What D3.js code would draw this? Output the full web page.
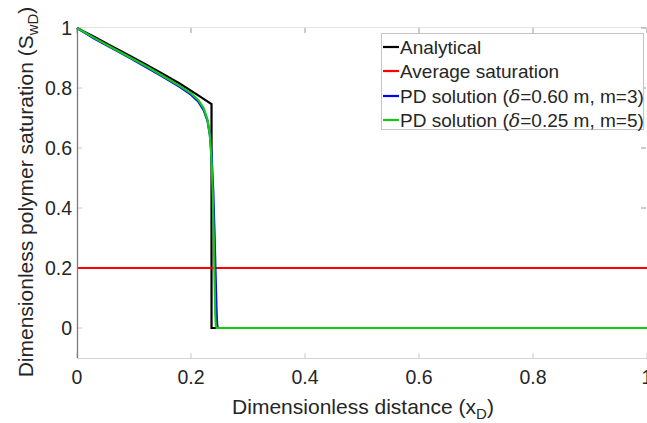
<!DOCTYPE html>
<html><head><meta charset="utf-8">
<script src="https://cdn.jsdelivr.net/npm/d3@7"></script>
<style>body{margin:0;background:#fff}svg{display:block;font-family:"Liberation Sans",Arial,sans-serif}</style>
</head><body>
<svg id="c" width="647" height="423"></svg>
<script>
// Data
const xTicks = [0, 0.2, 0.4, 0.6, 0.8, 1];
const yTicks = [0, 0.2, 0.4, 0.6, 0.8, 1];
const xTickLabels = ["0", "0.2", "0.4", "0.6", "0.8", "1"];
const yTickLabels = ["0", "0.2", "0.4", "0.6", "0.8", "1"];
const seriesNames = ["Analytical", "Average saturation", "PD solution (δ=0.60 m, m=3)", "PD solution (δ=0.25 m, m=5)"];
const analyticalX = [0, 0.01, 0.03, 0.06, 0.09, 0.12, 0.15, 0.18, 0.21, 0.236, 0.236, 1];
const analyticalY = [1, 0.99, 0.971, 0.94, 0.91, 0.879, 0.848, 0.815, 0.779, 0.746, 0, 0];
const averageX = [0, 1];
const averageY = [0.2, 0.2];
const pd1X = [0, 0.03, 0.06, 0.09, 0.12, 0.15, 0.18, 0.2, 0.213, 0.222, 0.229, 0.233, 0.236, 0.239, 0.2415, 0.2435, 0.245, 0.246, 0.247, 1];
const pd1Y = [1, 0.965, 0.934, 0.903, 0.871, 0.838, 0.804, 0.778, 0.754, 0.727, 0.69, 0.645, 0.58, 0.46, 0.3, 0.15, 0.05, 0.01, 0, 0];
const pd2X = [0, 0.03, 0.06, 0.09, 0.12, 0.15, 0.18, 0.2, 0.213, 0.222, 0.229, 0.233, 0.236, 0.238, 0.24, 0.2415, 0.2425, 0.2435, 0.245, 1];
const pd2Y = [1, 0.967, 0.936, 0.905, 0.874, 0.841, 0.807, 0.782, 0.759, 0.733, 0.694, 0.645, 0.56, 0.46, 0.3, 0.15, 0.05, 0.01, 0, 0];

const colors = ["#000000", "#ff0000", "#0000ff", "#14c814"];

const svg = d3.select("#c");
const x = d3.scaleLinear().domain([0, 1]).range([77, 647]);
const y = d3.scaleLinear().domain([-0.1, 1]).range([358, 28]);
const textCol = "#262626";

// axes box
svg.append("line").attr("x1", 77).attr("x2", 647).attr("y1", 27.5).attr("y2", 27.5).attr("stroke", "#e2e2e2").attr("stroke-width", 1.2);
svg.append("line").attr("x1", 77).attr("x2", 647).attr("y1", 358.5).attr("y2", 358.5).attr("stroke", "#d4d4d4").attr("stroke-width", 1.2);

// ticks
const tickG = svg.append("g").attr("stroke", "#9a9a9a").attr("stroke-width", 1);
xTicks.forEach(t => {
  tickG.append("line").attr("x1", x(t)).attr("x2", x(t)).attr("y1", 358).attr("y2", 353).attr("stroke", "#c8c8c8");
  tickG.append("line").attr("x1", x(t)).attr("x2", x(t)).attr("y1", 28).attr("y2", 33);
});
yTicks.forEach(t => {
  tickG.append("line").attr("x1", 77).attr("x2", 82).attr("y1", y(t)).attr("y2", y(t)).attr("stroke", "#c8c8c8");
  tickG.append("line").attr("x1", 646).attr("x2", 641).attr("y1", y(t)).attr("y2", y(t));
});

// series
const line = d3.line().x(d => x(d[0])).y(d => y(d[1]));
const series = [[analyticalX, analyticalY], [averageX, averageY], [pd1X, pd1Y], [pd2X, pd2Y]];
series.forEach((s, i) => {
  const pts = s[0].map((v, j) => [v, s[1][j]]);
  svg.append("path").attr("d", line(pts)).attr("fill", "none")
    .attr("stroke", colors[i]).attr("stroke-width", 2.2).attr("stroke-linejoin", "miter");
});

svg.append("line").attr("x1", 77.5).attr("x2", 77.5).attr("y1", 28).attr("y2", 358).attr("stroke", "#7a7a7a").attr("stroke-width", 1.3);

// tick labels
xTicks.forEach((t, i) => {
  svg.append("text").attr("x", x(t)).attr("y", 384).attr("text-anchor", "middle")
    .attr("font-size", 19.5).attr("fill", textCol).text(xTickLabels[i]);
});
yTicks.forEach((t, i) => {
  svg.append("text").attr("x", 72).attr("y", y(t) + 7).attr("text-anchor", "end")
    .attr("font-size", 19.5).attr("fill", textCol).text(yTickLabels[i]);
});

// axis labels
const xl = svg.append("text").attr("x", 363).attr("y", 414).attr("text-anchor", "middle")
  .attr("font-size", 21).attr("fill", textCol);
xl.append("tspan").text("Dimensionless distance (x");
xl.append("tspan").attr("font-size", 15).attr("dy", 5).text("D");
xl.append("tspan").attr("dy", -5).text(")");

const yl = svg.append("text").attr("transform", "translate(33,192) rotate(-90)").attr("text-anchor", "middle")
  .attr("font-size", 21).attr("fill", textCol);
yl.append("tspan").text("Dimensionless polymer saturation (S");
yl.append("tspan").attr("font-size", 15).attr("dy", 5).text("wD");
yl.append("tspan").attr("dy", -5).text(")");

// legend
const lg = svg.append("g");
lg.append("rect").attr("x", 381.5).attr("y", 33.5).attr("width", 262).attr("height", 96)
  .attr("fill", "#fff").attr("stroke", "#c4c4c4").attr("stroke-width", 1);
const rowY = [47, 71, 96, 120];
seriesNames.forEach((n, i) => {
  lg.append("line").attr("x1", 383).attr("x2", 399).attr("y1", rowY[i]).attr("y2", rowY[i])
    .attr("stroke", colors[i]).attr("stroke-width", 2.2);
  const t = lg.append("text").attr("x", 400).attr("y", rowY[i] + 7).attr("font-size", 19)
    .attr("fill", textCol);
  if (n.includes("δ")) {
    const parts = n.split("δ");
    t.append("tspan").text(parts[0]);
    t.append("tspan").attr("font-family", "'DejaVu Serif','Liberation Serif',serif").attr("font-style", "italic").text("δ");
    t.append("tspan").text(parts[1]);
  } else {
    t.text(n);
  }
});
</script>
</body></html>
